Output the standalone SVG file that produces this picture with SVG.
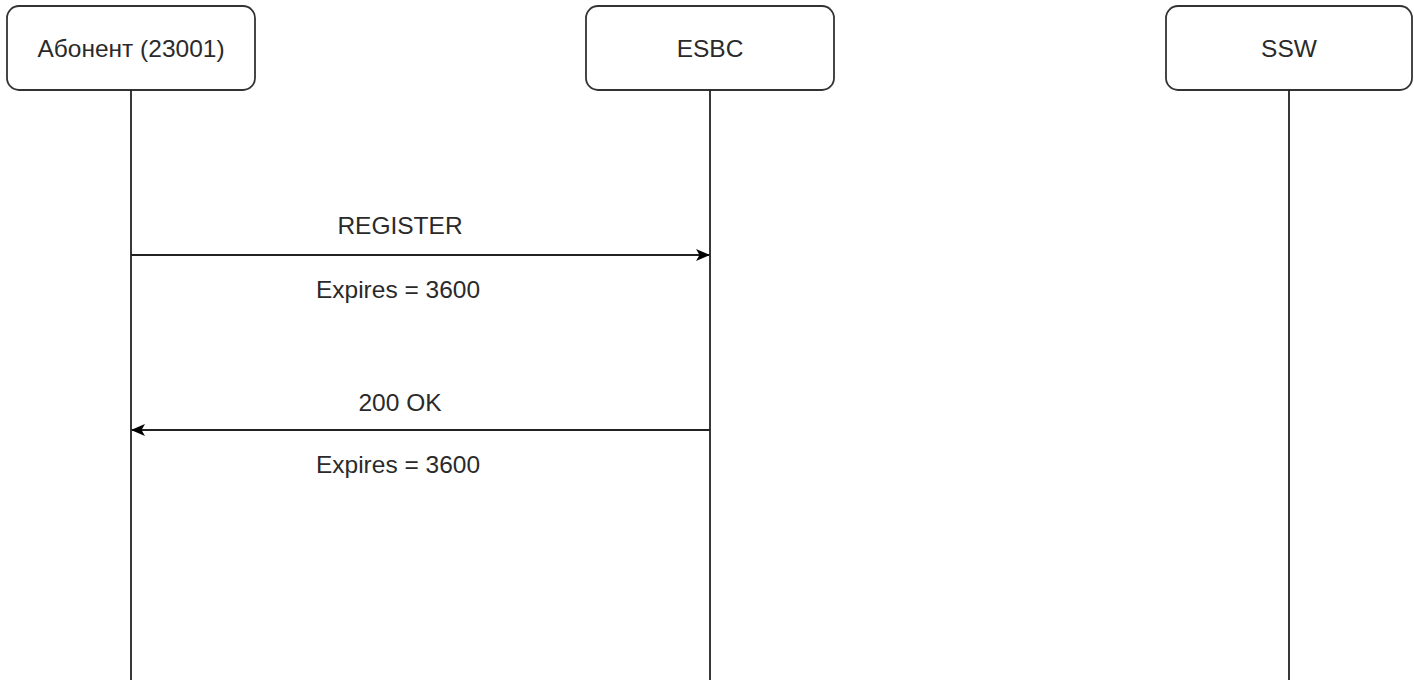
<svg xmlns="http://www.w3.org/2000/svg" width="1414" height="680" viewBox="0 0 1414 680">
<style>
.box{fill:#fff;stroke:#333;stroke-width:1.8}
.t{font-family:"Liberation Sans",Arial,sans-serif;font-size:24.5px;fill:#2a2a2a;text-anchor:middle}
.life{stroke:#222;stroke-width:1.8;fill:none}
.msg{stroke:#222;stroke-width:1.8;fill:none}
</style>
<defs>
<marker id="ah" viewBox="0 0 14 12" refX="13" refY="6" markerWidth="14" markerHeight="12" markerUnits="userSpaceOnUse" orient="auto">
<path d="M0,0 L14,6 L0,12 L3.5,6 Z" fill="#000"/>
</marker>
</defs>
<rect width="1414" height="680" fill="#fff"/>
<g id="node-abonent">
<rect class="box" x="7" y="6" width="248" height="84" rx="12"/>
<line class="life" x1="131" y1="90" x2="131" y2="680"/>
<text class="t" x="131" y="57">Абонент (23001)</text>
</g>
<g id="node-esbc">
<rect class="box" x="586" y="6" width="248" height="84" rx="12"/>
<line class="life" x1="710" y1="90" x2="710" y2="680"/>
<text class="t" x="710" y="57">ESBC</text>
</g>
<g id="node-ssw">
<rect class="box" x="1166" y="6" width="246" height="84" rx="12"/>
<line class="life" x1="1289" y1="90" x2="1289" y2="680"/>
<text class="t" x="1289" y="57">SSW</text>
</g>
<g id="connectors">
<line class="msg" x1="131" y1="255" x2="709" y2="255" marker-end="url(#ah)"/>
<line class="msg" x1="710" y1="430" x2="132" y2="430" marker-end="url(#ah)"/>
<text class="t" x="400" y="234">REGISTER</text>
<text class="t" x="398" y="298">Expires = 3600</text>
<text class="t" x="400" y="411">200 OK</text>
<text class="t" x="398" y="473">Expires = 3600</text>
</g>
</svg>
